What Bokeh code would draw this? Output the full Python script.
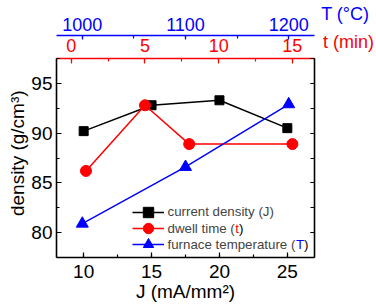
from bokeh.plotting import figure
from bokeh.layouts import row
from bokeh.models import (LinearAxis, Range1d, SingleIntervalTicker, FixedTicker, Legend,
                          LegendItem, Label, CustomJSTickFormatter)
from bokeh.embed import file_html
from bokeh.resources import INLINE

# ---- data ----
J_mA = [10, 15, 20, 25]
dens_J = [90.2, 92.8, 93.3, 90.5]
t_min = [1, 5, 8, 15]
dens_t = [86.2, 92.8, 88.9, 88.9]
T_C = [1000, 1100, 1200]
dens_T = [80.9, 86.6, 92.9]

FONT = "Liberation Sans"
RED = "#ff0000"
BLUE = "#0000ff"
TOP_SIZE = "18px"
RED_STAND, BLUE_STAND = 7, 5

p = figure(width=318, height=306, output_backend="svg", toolbar_location=None,
           x_range=Range1d(8, 27), y_range=Range1d(77.5, 97.5),
           min_border_left=56, min_border_right=4, min_border_top=57,
           min_border_bottom=49)
p.extra_x_ranges = {"t": Range1d(-1, 16.5), "T": Range1d(975, 1225)}
p.xgrid.visible = False
p.ygrid.visible = False
p.outline_line_color = None
p.background_fill_color = "white"
p.border_fill_color = "white"


def style(ax, color, size, interval, tin=5, tmin=3):
    ax.ticker = SingleIntervalTicker(interval=interval, num_minor_ticks=2)
    ax.axis_line_color = color
    ax.axis_line_width = 1.6
    ax.major_tick_line_color = color
    ax.minor_tick_line_color = color
    ax.major_tick_line_width = 1.2
    ax.minor_tick_line_width = 1.2
    ax.major_tick_in = tin
    ax.major_tick_out = 0
    ax.minor_tick_in = tmin
    ax.minor_tick_out = 0
    ax.major_label_text_font = FONT
    ax.major_label_text_font_size = size
    ax.major_label_text_color = color
    ax.axis_label_text_font = FONT
    ax.axis_label_text_font_style = "normal"
    ax.axis_label_text_color = color


xa = p.xaxis[0]
style(xa, "black", "19px", 5)
xa.axis_label = "J (mA/mm²)"
xa.axis_label_text_font_size = "19px"
xa.major_label_standoff = 7
xa.axis_label_standoff = 0

ya = p.yaxis[0]
style(ya, "black", "19px", 5)
ya.axis_label = "\u2002density (g/cm³)"
ya.axis_label_text_font_size = "19px"
ya.major_label_standoff = 4
ya.axis_label_standoff = 0

ra = LinearAxis(formatter=CustomJSTickFormatter(code="return ''"))
style(ra, "black", "1px", 5, tin=4, tmin=4)
ra.major_label_standoff = 0
p.add_layout(ra, "right")


def top_axes(fig, red_kw, blue_kw):
    a1 = LinearAxis(**red_kw)
    a1.major_label_standoff = RED_STAND
    fig.add_layout(a1, "above")
    a2 = LinearAxis(**blue_kw)
    a2.major_label_standoff = BLUE_STAND
    fig.add_layout(a2, "above")
    return a1, a2


ta, Ta = top_axes(p, dict(x_range_name="t"), dict(x_range_name="T"))
style(ta, RED, TOP_SIZE, 5)
style(Ta, BLUE, TOP_SIZE, 100, tin=4, tmin=3)

# ---- series ----
l1 = p.line(J_mA, dens_J, line_color="black", line_width=1.5)
m1 = p.scatter(J_mA, dens_J, marker="square", size=9, color="black")
l2 = p.line(t_min, dens_t, x_range_name="t", line_color=RED, line_width=1.5)
m2 = p.scatter(t_min, dens_t, x_range_name="t", marker="circle", size=11, color=RED)
l3 = p.line(T_C, dens_T, x_range_name="T", line_color=BLUE, line_width=1.5)
m3 = p.scatter(T_C, dens_T, x_range_name="T", marker="triangle", size=12, color=BLUE)

# ---- legend: one Legend per row so the rows can sit closer than the glyph box ----
LX = 75.5
GW, GH, STAND = 32, 26, 4
LSIZE = "13.3px"
entries = [("current density (J)", [l1, m1], 45.3),
           ("dwell time (", [l2, m2], 28.7),
           ("furnace temperature (", [l3, m3], 12.7)]
for lab, rs, yc in entries:
    p.add_layout(Legend(items=[LegendItem(label=lab, renderers=rs)],
                        location=(LX, yc - GH / 2), padding=0, margin=0, spacing=0,
                        glyph_width=GW, glyph_height=GH, label_height=GH,
                        label_standoff=STAND, label_text_font=FONT,
                        label_text_font_size=LSIZE, background_fill_alpha=0,
                        border_line_color=None, border_line_alpha=0))

TX = LX + GW + STAND
em = 13.3
for txt, col, dx, yc in [("t", RED, 5.056 * em, 28.7), (")", "black", 5.334 * em, 28.7),
                         ("T", BLUE, 9.615 * em, 12.7), (")", "black", 10.226 * em, 12.7)]:
    p.add_layout(Label(x=TX + dx, y=yc, x_units="screen", y_units="screen", text=txt,
                       text_color=col, text_font=FONT, text_font_size=LSIZE,
                       text_baseline="middle", text_align="left"))

# ---- side strip: the two top-axis titles, set in the same rows as the tick labels ----
q = figure(width=58, height=306, output_backend="svg", toolbar_location=None,
           x_range=Range1d(0, 58), y_range=Range1d(0, 1),
           x_axis_type=None, y_axis_type=None, min_border=0)
q.outline_line_color = None
q.xgrid.visible = False
q.ygrid.visible = False
qa, qb = top_axes(q, dict(), dict())
for ax, col, xc, txt in [(qa, RED, 30.0, "t (min)"), (qb, BLUE, 26.8, "T (°C)")]:
    ax.ticker = FixedTicker(ticks=[xc], minor_ticks=[])
    ax.formatter = CustomJSTickFormatter(code="return %r;" % txt)
    ax.axis_line_color = None
    ax.major_tick_line_color = None
    ax.minor_tick_line_color = None
    ax.major_tick_in = 0
    ax.major_tick_out = 0
    ax.minor_tick_in = 0
    ax.minor_tick_out = 0
    ax.major_label_text_font = FONT
    ax.major_label_text_font_size = TOP_SIZE
    ax.major_label_text_color = col
    ax.axis_label_text_color = col

layout = row(p, q, spacing=0)
open("out.html", "w").write(file_html(layout, INLINE))
